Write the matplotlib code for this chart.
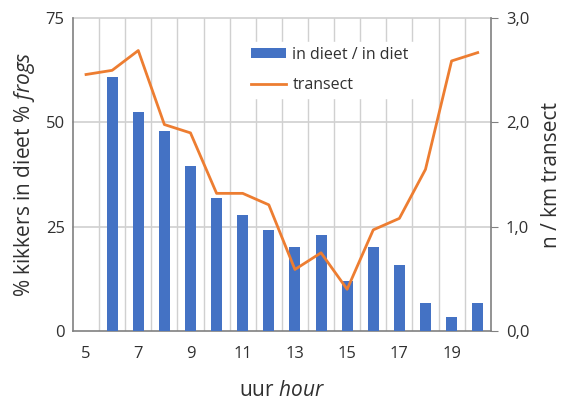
import matplotlib.pyplot as plt
import numpy as np

plt.rcParams['font.family'] = ['Open Sans', 'DejaVu Sans']
plt.rcParams['mathtext.fontset'] = 'custom'
plt.rcParams['mathtext.rm'] = 'Open Sans'
plt.rcParams['mathtext.it'] = 'Open Sans:italic'

# Data
hours = list(range(5, 21))
diet = [np.nan, 61, 52.5, 48, 39.5, 32, 27.7, 24.1, 20.1, 22.9, 12.1, 20.1, 15.8, 6.6, 3.4, 6.6]
transect = [2.46, 2.50, 2.69, 1.98, 1.90, 1.32, 1.32, 1.21, 0.59, 0.75, 0.40, 0.97, 1.08, 1.55, 2.59, 2.67]

blue = "#4472C4"
orange = "#ED7D31"
grid_c = "#D0D0D0"
spine_c = "#808080"
text_c = "#303030"

fig = plt.figure(figsize=(5.68, 4.01), dpi=100)
ax = fig.add_axes([0.1285, 0.1746, 0.7355, 0.78])
ax2 = ax.twinx()

x = np.arange(len(hours))
ax.bar(x, diet, width=0.42, color=blue, zorder=3, label="in dieet / in diet")
ax2.plot(x, transect, color=orange, lw=2, label="transect")

ax.set_xlim(-0.5, len(hours) - 0.5)
ax.set_ylim(0, 75)
ax2.set_ylim(0, 3)
ax.set_yticks([0, 25, 50, 75])
ax2.set_yticks([0, 1, 2, 3])
ax2.set_yticklabels(["0,0", "1,0", "2,0", "3,0"])
ax.set_xticks(x[::2])
ax.set_xticklabels([str(h) for h in hours[::2]])

# gridlines between categories and at y ticks
for b in np.arange(0.5, len(hours) - 0.5, 1):
    ax.axvline(b, color=grid_c, lw=1, zorder=1)
for v in [25, 50, 75]:
    ax.axhline(v, color=grid_c, lw=1.2, zorder=1, clip_on=False)

for a in (ax, ax2):
    for s in a.spines.values():
        s.set_visible(False)
ax.spines['left'].set_visible(True)
ax.spines['bottom'].set_visible(True)
ax2.spines['right'].set_visible(True)
for s in (ax.spines['left'], ax.spines['bottom'], ax2.spines['right']):
    s.set_color(spine_c)
    s.set_linewidth(1.2)

ax.tick_params(axis='y', length=0, labelsize=12, labelcolor=text_c, pad=6)
ax.tick_params(axis='x', length=0, labelsize=12, labelcolor=text_c, pad=11)
ax2.tick_params(axis='y', length=5, color=spine_c, labelsize=12, labelcolor=text_c, pad=6)

ax.set_xlabel(r"uur $\mathit{hour}$", fontsize=15, labelpad=13, color=text_c)
ax.set_ylabel(r"% kikkers in dieet $\mathit{\%\ frogs}$", fontsize=15, labelpad=6, color=text_c)
ax2.set_ylabel("n / km transect", fontsize=15, labelpad=8, color=text_c)

h1, l1 = ax.get_legend_handles_labels()
h2, l2 = ax2.get_legend_handles_labels()
leg = ax2.legend(h1 + h2, l1 + l2, loc='upper left', bbox_to_anchor=(0.395, 0.95),
                 frameon=True, fancybox=False, edgecolor='white', framealpha=1,
                 fontsize=11.5, handlelength=2.2, handleheight=0.5, borderpad=0.3,
                 labelspacing=0.9, handletextpad=0.4, prop=None)
for t in leg.get_texts():
    t.set_color(text_c)
leg.set_zorder(5)

fig.savefig("out.png", dpi=100)
